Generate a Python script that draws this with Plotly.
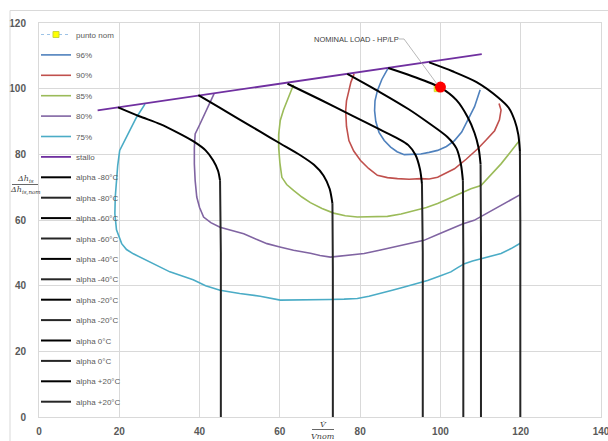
import plotly.graph_objects as go

# ---- data -------------------------------------------------------------
# nominal point (volume-flow ratio %, isentropic head ratio %)
nom_x = [99.2]
nom_y = [100.0]
nom_label_x = [100.0]
nom_label_y = [100.5]

# stall line
stall_x = [14.6, 110.3]
stall_y = [93.4, 110.5]

# iso-efficiency curves
eff96_x = [86.9, 85.4, 84.3, 83.7, 83.6, 83.9, 84.7, 86.0, 87.6, 89.2, 91.0, 93.0, 95.1, 97.2, 99.3, 101.5, 103.5, 105.3, 106.8, 108.5, 109.9]
eff96_y = [106.1, 102.8, 99.4, 96.3, 93.3, 90.0, 86.7, 84.2, 82.2, 80.8, 79.9, 79.9, 80.1, 80.6, 81.2, 82.4, 84.2, 86.8, 90.3, 94.5, 99.7]

eff90_x = [78.5, 77.7, 77.2, 76.6, 76.4, 76.6, 77.2, 78.4, 80.1, 82.1, 84.3, 86.8, 89.3, 92.2, 95.1, 97.2, 99.3, 101.4, 103.5, 106.4, 109.3, 111.5, 113.5, 114.7, 115.1, 114.6]
eff90_y = [104.5, 102.0, 99.4, 96.3, 93.3, 88.5, 84.2, 81.0, 78.1, 75.7, 73.6, 72.9, 72.6, 72.4, 72.6, 72.5, 73.0, 74.4, 75.6, 78.5, 81.7, 84.5, 87.2, 90.5, 93.5, 95.5]

eff85_x = [63.4, 62.2, 60.9, 60.1, 59.7, 59.7, 60.0, 60.5, 61.7, 63.4, 65.5, 67.6, 70.5, 73.4, 76.3, 79.3, 83.0, 86.8, 90.2, 93.5, 96.5, 99.3, 102.2, 105.1, 107.6, 110.1, 112.6, 115.1, 117.4, 119.7]
eff85_y = [101.2, 97.5, 93.5, 90.3, 86.0, 82.2, 77.5, 73.0, 70.8, 69.0, 67.0, 65.3, 63.5, 62.1, 61.3, 60.9, 61.0, 61.1, 61.8, 62.9, 63.8, 65.0, 66.5, 68.0, 69.5, 70.5, 73.8, 77.1, 80.6, 84.2]

eff80_x = [43.6, 42.3, 41.0, 39.9, 38.9, 38.7, 38.7, 38.9, 39.3, 40.0, 41.0, 42.8, 45.1, 48.0, 51.0, 54.0, 56.8, 60.0, 63.4, 67.6, 70.0, 72.6, 76.8, 81.0, 84.8, 88.5, 92.2, 95.9, 99.3, 102.6, 105.5, 108.4, 111.4, 114.3, 117.2, 120.0]
eff80_y = [98.4, 94.8, 91.3, 88.7, 86.2, 82.0, 77.1, 72.0, 67.0, 63.8, 60.9, 59.2, 57.8, 56.8, 55.8, 54.2, 52.8, 51.8, 50.8, 49.9, 49.2, 48.7, 49.2, 49.8, 50.8, 51.8, 52.8, 53.8, 55.6, 57.4, 58.8, 59.9, 62.0, 63.9, 65.9, 67.8]

eff75_x = [26.4, 25.3, 24.3, 22.6, 21.2, 20.1, 19.6, 19.3, 19.0, 18.9, 19.3, 20.6, 21.8, 23.5, 25.5, 27.6, 30.0, 32.6, 35.5, 38.4, 41.5, 45.1, 50.0, 55.1, 60.1, 66.0, 72.6, 76.0, 79.3, 82.2, 85.1, 88.0, 91.0, 94.0, 96.8, 99.7, 102.6, 104.3, 106.0, 108.0, 110.1, 112.6, 115.1, 117.6, 120.0]
eff75_y = [95.3, 93.3, 91.3, 87.2, 84.0, 81.2, 76.5, 72.0, 67.0, 61.9, 57.0, 52.8, 51.0, 49.7, 48.5, 47.2, 45.6, 44.2, 43.0, 41.8, 40.0, 38.6, 37.6, 36.8, 35.6, 35.6, 35.8, 35.9, 36.1, 36.8, 37.6, 38.6, 39.6, 40.6, 41.6, 42.9, 44.2, 45.5, 46.7, 47.5, 48.2, 49.0, 49.8, 51.3, 53.0]

# constant inlet-guide-vane angle lines: sloped branch + vertical branch
alpha_labels = ["alpha -80°C", "alpha -60°C", "alpha -40°C", "alpha -20°C", "alpha 0°C", "alpha +20°C"]
alpha_top_x = [
    [19.7, 25.0, 30.2, 35.0, 38.4, 41.5, 43.4, 44.6, 45.1],
    [39.7, 45.0, 50.0, 55.1, 60.1, 65.0, 68.5, 70.9, 72.4, 73.1],
    [61.9, 70.0, 78.0, 85.0, 89.4, 92.0, 93.8, 94.9, 95.4],
    [76.8, 85.0, 92.0, 97.0, 101.8, 104.0, 105.1, 105.6],
    [87.0, 93.0, 100.0, 104.0, 106.8, 108.5, 109.5, 110.0],
    [97.2, 103.0, 109.0, 114.3, 117.0, 118.5, 119.4, 119.8],
]
alpha_top_y = [
    [94.3, 91.6, 89.2, 86.3, 84.0, 81.2, 78.1, 75.0, 72.0],
    [98.0, 94.2, 90.6, 86.9, 83.3, 79.8, 76.8, 73.5, 69.5, 65.0],
    [101.5, 96.7, 91.8, 87.5, 84.8, 82.8, 79.8, 75.5, 71.0],
    [104.5, 98.9, 93.8, 89.6, 85.2, 81.8, 77.0, 72.0],
    [106.3, 103.8, 100.3, 96.5, 91.3, 86.5, 82.0, 77.0],
    [108.0, 105.3, 102.0, 97.4, 94.2, 90.3, 86.0, 81.0],
]
alpha_low_x = [
    [45.1, 45.3, 45.3],
    [73.1, 73.2, 73.2],
    [95.4, 95.6, 95.6],
    [105.6, 105.7, 105.7],
    [110.0, 110.1, 110.1],
    [119.8, 119.9, 119.9],
]
alpha_low_y = [
    [72.0, 50.0, 0.0],
    [65.0, 45.0, 0.0],
    [71.0, 50.0, 0.0],
    [72.0, 50.0, 0.0],
    [77.0, 55.0, 0.0],
    [81.0, 60.0, 0.0],
]

x_ticks = [0, 20, 40, 60, 80, 100, 120, 140]
y_ticks = [0, 20, 40, 60, 80, 100, 120]

# ---- figure -------------------------------------------------------------
W, H = 608, 441
ML, MR, MT, MB = 39, 7, 23, 24
PW, PH = W - ML - MR, H - MT - MB


def px_x(px):
    return (px - ML) / PW


def px_y(py):
    return (H - MB - py) / PH


fig = go.Figure()
group = [0]


def add(trace):
    group[0] += 1
    trace.legendgroup = "g%02d" % group[0]
    fig.add_trace(trace)


add(go.Scatter(x=nom_x, y=nom_y, name="punto nom", mode="lines+markers",
               line=dict(color="#9DC3E6", width=1, dash="dot"),
               marker=dict(symbol="square", size=6, color="#FFFF00",
                           line=dict(color="#C9D63A", width=1))))

eff_series = [
    ("96%", eff96_x, eff96_y, "#4F81BD"),
    ("90%", eff90_x, eff90_y, "#C0504D"),
    ("85%", eff85_x, eff85_y, "#9BBB59"),
    ("80%", eff80_x, eff80_y, "#8064A2"),
    ("75%", eff75_x, eff75_y, "#4BACC6"),
]
for name, xs, ys, col in eff_series:
    add(go.Scatter(x=xs, y=ys, name=name, mode="lines",
                   line=dict(color=col, width=1.6)))

add(go.Scatter(x=stall_x, y=stall_y, name="stallo", mode="lines",
               line=dict(color="#7030A0", width=1.8)))

for i, lab in enumerate(alpha_labels):
    add(go.Scatter(x=alpha_top_x[i], y=alpha_top_y[i], name=lab, mode="lines",
                   line=dict(color="#000000", width=2, shape="spline", smoothing=0.8)))
    add(go.Scatter(x=alpha_low_x[i], y=alpha_low_y[i], name=lab, mode="lines",
                   line=dict(color="#262626", width=2)))

# nominal operating point marker
fig.add_trace(go.Scatter(x=nom_label_x, y=nom_label_y, mode="markers", showlegend=False,
                         marker=dict(symbol="circle", size=11, color="#FF0000",
                                     line=dict(width=0))))

# callout: label text and its leader line
fig.add_annotation(x=px_x(356), y=px_y(39), xref="paper", yref="paper",
                   xanchor="center", yanchor="middle", showarrow=False,
                   text="NOMINAL LOAD - HP/LP",
                   font=dict(family="Liberation Sans", size=7.5, color="#404040"))
fig.add_shape(type="path", xref="paper", yref="paper",
              path="M %.4f %.4f L %.4f %.4f L %.4f %.4f" % (
                  px_x(399), px_y(39), px_x(404), px_y(39), px_x(437), px_y(84)),
              line=dict(color="#A6A6A6", width=0.8))

# axis titles drawn as fractions
title_font = dict(family="DejaVu Serif", size=8, color="#404040")
fig.add_annotation(x=px_x(25), y=px_y(179), xref="paper", yref="paper", showarrow=False,
                   xanchor="center", yanchor="middle",
                   text="<i>Δh<sub>is</sub></i>", font=title_font)
fig.add_annotation(x=px_x(25), y=px_y(190), xref="paper", yref="paper", showarrow=False,
                   xanchor="center", yanchor="middle",
                   text="<i>Δh<sub>is,nom</sub></i>", font=title_font)
fig.add_shape(type="line", xref="paper", yref="paper", x0=px_x(12), x1=px_x(38),
              y0=px_y(184.5), y1=px_y(184.5), line=dict(color="#404040", width=0.8))
fig.add_annotation(x=px_x(323), y=px_y(424.5), xref="paper", yref="paper", showarrow=False,
                   xanchor="center", yanchor="middle",
                   text="<i>V\u0307</i>", font=title_font)
fig.add_annotation(x=px_x(323), y=px_y(436), xref="paper", yref="paper", showarrow=False,
                   xanchor="center", yanchor="middle",
                   text="<i>Vnom</i>", font=title_font)
fig.add_shape(type="line", xref="paper", yref="paper", x0=px_x(312), x1=px_x(334),
              y0=px_y(429.5), y1=px_y(429.5), line=dict(color="#404040", width=0.8))

# chart-area frame lines
frame = dict(color="#D9D9D9", width=1)
fig.add_shape(type="line", xref="paper", yref="paper", x0=px_x(10), x1=px_x(620),
              y0=px_y(10.5), y1=px_y(10.5), line=frame)
fig.add_shape(type="line", xref="paper", yref="paper", x0=px_x(10), x1=px_x(10),
              y0=px_y(10.5), y1=px_y(460), line=frame)

axis_common = dict(showgrid=True, gridcolor="#D9D9D9", gridwidth=1, zeroline=False,
                   showline=True, linecolor="#D9D9D9", linewidth=1, mirror=True,
                   ticks="", ticklabeloverflow="allow", automargin=False,
                   tickfont=dict(family="Liberation Sans", size=10,
                                 color="#595959", weight="bold"))
fig.update_xaxes(range=[0, 140], tickvals=x_ticks, ticklabelstandoff=5, **axis_common)
fig.update_yaxes(range=[0, 120], tickvals=y_ticks, ticklabelstandoff=10, **axis_common)

fig.update_layout(
    width=W, height=H,
    margin=dict(l=ML, r=MR, t=MT, b=MB, pad=0, autoexpand=False),
    paper_bgcolor="white", plot_bgcolor="white",
    legend=dict(x=px_x(36), y=px_y(20), xanchor="left", yanchor="top",
                bgcolor="rgba(0,0,0,0)", borderwidth=0, maxheight=430,
                font=dict(family="Liberation Sans", size=8, color="#595959"),
                tracegroupgap=1.4, traceorder="grouped", itemwidth=30),
)

fig.write_html("out.html")
